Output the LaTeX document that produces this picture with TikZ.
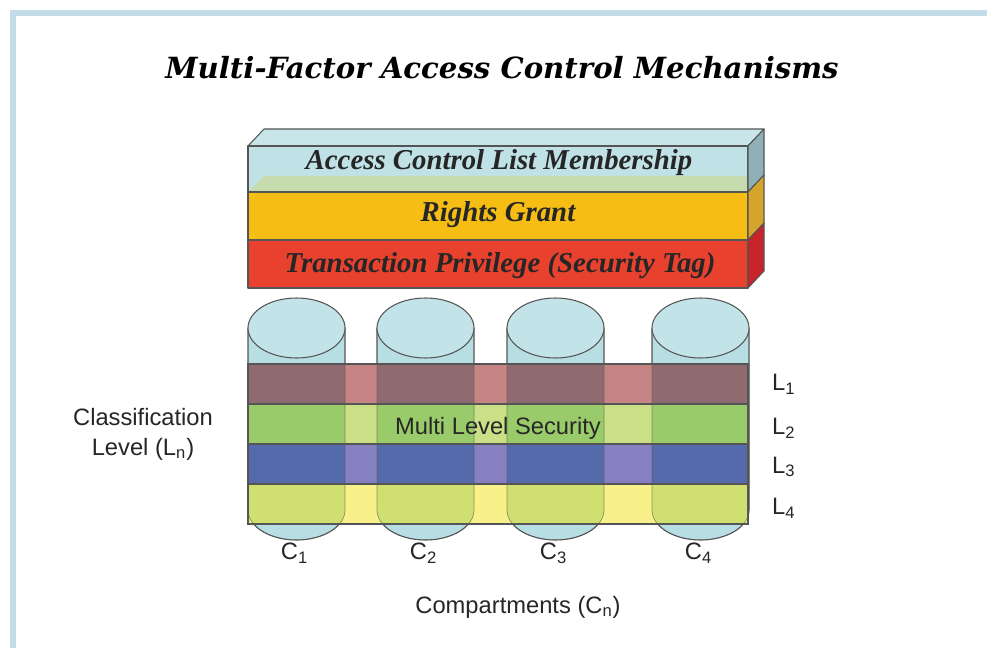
\documentclass[tikz,border=0pt]{standalone}
\usepackage{fontspec}
\setmainfont{Liberation Serif}
\setsansfont{Liberation Sans}
\newfontfamily\headfont{DejaVu Serif}
\usepackage{tikz}
\definecolor{frameblue}{HTML}{C4DCE8}
\definecolor{edge}{HTML}{555555}
\definecolor{acltop}{HTML}{C8E6EA}
\definecolor{aclface}{HTML}{C0E2E6}
\definecolor{aclside}{HTML}{8FB0B6}
\definecolor{grantlid}{HTML}{C6DBAE}
\definecolor{grantface}{HTML}{F6BD15}
\definecolor{grantside}{HTML}{D5A52B}
\definecolor{tagface}{HTML}{E8422F}
\definecolor{tagside}{HTML}{C9232B}
\definecolor{drum}{HTML}{B6DEE3}
\definecolor{drumtop}{HTML}{C2E4E8}
\definecolor{lone}{HTML}{C78485}
\definecolor{loneIn}{HTML}{8F6B6F}
\definecolor{ltwo}{HTML}{CBDF86}
\definecolor{ltwoIn}{HTML}{9ACB6A}
\definecolor{lthree}{HTML}{8780C0}
\definecolor{lthreeIn}{HTML}{556AAB}
\definecolor{lfour}{HTML}{F8F088}
\definecolor{lfourIn}{HTML}{D0E070}
\tikzstyle{frame} = [draw=frameblue, line width=0.11cm]
\tikzstyle{heading} = [font={\headfont\bfseries\itshape\fontsize{16.6}{20}\selectfont}]
\tikzstyle{slab} = [draw=edge, line width=0.6pt, line join=round]
\tikzstyle{slabtext} = [font={\bfseries\itshape\fontsize{16.4}{18}\selectfont}, text=black!85]
\tikzstyle{band} = [draw=edge, line width=0.6pt]
\tikzstyle{lbl} = [font={\sffamily\fontsize{13.5}{17}\selectfont}, text=black!85]

\begin{document}
\begin{tikzpicture}[x=0.02cm,y=-0.02cm]
  \useasboundingbox (0,0) rectangle (987,648);
  \fill[white] (0,0) rectangle (987,648);
  \draw[frame] (13,648) -- (13,13) -- (987,13);
  \node[heading](title) at (502,68){Multi-Factor Access Control Mechanisms};

  % the three stacked slabs
  \draw[slab,fill=acltop] (248,146) -- (264,129) -- (764,129) -- (748,146) -- cycle;
  \draw[slab,fill=aclface] (248,146) rectangle (748,192);
  \fill[grantlid] (249,191) -- (264,176) -- (747,176) -- (747,191) -- cycle;
  \draw[slab,fill=grantface] (248,192) rectangle (748,240);
  \draw[slab,fill=tagface] (248,240) rectangle (748,288);
  \draw[slab,fill=aclside] (748,146) -- (764,129) -- (764,175) -- (748,192) -- cycle;
  \draw[slab,fill=grantside] (748,192) -- (764,175) -- (764,223) -- (748,240) -- cycle;
  \draw[slab,fill=tagside] (748,240) -- (764,223) -- (764,271) -- (748,288) -- cycle;
  \node[slabtext](acl) at (499,163){Access Control List Membership};
  \node[slabtext](grant) at (498,215){Rights Grant};
  \node[slabtext](tag) at (500,266){Transaction Privilege (Security Tag)};

  % compartments
  \foreach \cx in {296.5,425.5,555.5,700.5}{
    \draw[slab,fill=drum] ({\cx-48.5},328) -- ({\cx-48.5},510)
      arc[start angle=180,end angle=0,x radius=48.5,y radius=30] -- ({\cx+48.5},328) -- cycle;
    \draw[slab,fill=drumtop] (\cx,328) ellipse [x radius=48.5,y radius=30];
  }

  % levels
  \foreach \y/\c in {364/lone,404/ltwo,444/lthree,484/lfour}
    \draw[band,fill=\c] (248,\y) rectangle (748,\y+40);
  \foreach \cx in {296.5,425.5,555.5,700.5}{
    \begin{scope}
      \clip ({\cx-48.5},328) -- ({\cx-48.5},510)
        arc[start angle=180,end angle=0,x radius=48.5,y radius=30] -- ({\cx+48.5},328) -- cycle;
      \foreach \y/\c in {364/loneIn,404/ltwoIn,444/lthreeIn,484/lfourIn}
        \fill[\c] (248,\y) rectangle (748,\y+40);
    \end{scope}
    \draw[edge,opacity=.6] ({\cx-48.5},364) -- ({\cx-48.5},510)
      arc[start angle=180,end angle=0,x radius=48.5,y radius=30] -- ({\cx+48.5},364);
  }
  \foreach \y in {364,404,444,484}
    \draw[band] (248,\y) rectangle (748,\y+40);

  \node[lbl](mls) at (498,428){Multi Level Security};
  \foreach \y/\n in {384/1,428/2,467/3,508/4}
    \node[lbl,anchor=west](L\n) at (766,\y){L\textsubscript{\n}};
  \foreach \cx/\n in {296.5/1,425.5/2,555.5/3,700.5/4}
    \node[lbl](C\n) at (\cx-2,553){C\textsubscript{\n}};
  \node[lbl,align=center](levels) at (143,434){Classification\\Level (L\textsubscript{n})};
  \node[lbl](parts) at (518,607){Compartments (C\textsubscript{n})};
\end{tikzpicture}
\end{document}
